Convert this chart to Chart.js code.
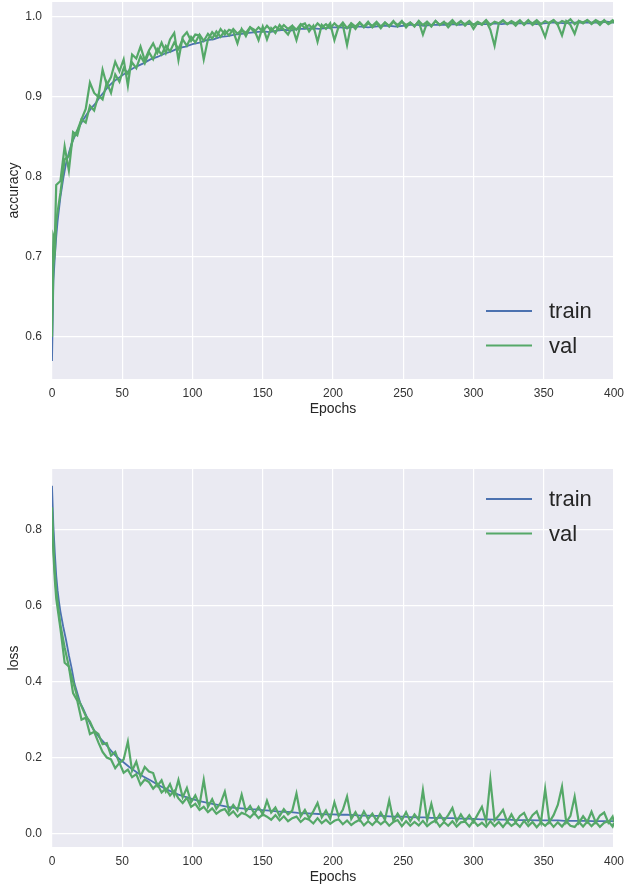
<!DOCTYPE html>
<html>
<head>
<meta charset="utf-8">
<script src="https://cdn.jsdelivr.net/npm/chart.js@4.4.1/dist/chart.umd.min.js"></script>
<style>
  body { margin: 0; background: #fff; }
  #wrap { position: relative; width: 624px; height: 889px; }
  #accChart { position: absolute; left: 0; top: 0; }
  #lossChart { position: absolute; left: 0; top: 440px; }
</style>
</head>
<body>
<div id="wrap">
  <canvas id="accChart" width="624" height="421"></canvas>
  <canvas id="lossChart" width="624" height="449"></canvas>
</div>
<script>
// training curves (smooth, read every few epochs)
const trainEpochs = [
  0, 1, 2, 3, 4, 5, 6, 8, 10, 12, 14, 16, 18, 20, 22, 25, 28, 31, 34, 37, 40, 43, 46, 50,
  55, 60, 65, 70, 75, 80, 85, 90, 95, 100,
  105, 110, 115, 120, 125, 130, 135, 140, 145, 150,
  155, 160, 165, 170, 175, 180, 185, 190, 195, 200,
  205, 210, 215, 220, 225, 230, 235, 240, 245, 250,
  255, 260, 265, 270, 275, 280, 285, 290, 295, 300,
  305, 310, 315, 320, 325, 330, 335, 340, 345, 350,
  355, 360, 365, 370, 375, 380, 385, 390, 395, 400
];
const trainAcc = [
  0.57, 0.67, 0.70, 0.725, 0.745, 0.76, 0.775, 0.798, 0.817, 0.83, 0.842, 0.85, 0.858, 0.865, 0.871, 0.879, 0.886, 0.892, 0.9, 0.906, 0.913, 0.918, 0.922, 0.927,
  0.933, 0.938, 0.942, 0.947, 0.95, 0.954, 0.957, 0.961, 0.963, 0.966,
  0.968, 0.971, 0.972, 0.975, 0.976, 0.978, 0.979, 0.98, 0.981, 0.982,
  0.981, 0.983, 0.984, 0.983, 0.985, 0.985, 0.986, 0.985, 0.986, 0.987,
  0.987, 0.986, 0.988, 0.988, 0.987, 0.988, 0.989, 0.989, 0.988, 0.989,
  0.99, 0.99, 0.989, 0.99, 0.99, 0.99, 0.991, 0.99, 0.991, 0.991,
  0.991, 0.991, 0.992, 0.991, 0.992, 0.992, 0.992, 0.992, 0.991, 0.992,
  0.993, 0.993, 0.992, 0.993, 0.993, 0.993, 0.993, 0.993, 0.994, 0.993
];
const trainLoss = [
  0.917, 0.81, 0.74, 0.68, 0.64, 0.61, 0.585, 0.545, 0.51, 0.47, 0.435, 0.395, 0.37, 0.345, 0.33, 0.305, 0.283, 0.266, 0.252, 0.24, 0.227, 0.214, 0.202, 0.19,
  0.175, 0.162, 0.15, 0.14, 0.129, 0.119, 0.11, 0.102, 0.096, 0.09,
  0.085, 0.081, 0.077, 0.074, 0.07, 0.067, 0.066, 0.064, 0.063, 0.061,
  0.06, 0.058, 0.057, 0.056, 0.054, 0.053, 0.052, 0.051, 0.05, 0.05,
  0.049, 0.049, 0.048, 0.047, 0.047, 0.046, 0.046, 0.045, 0.044, 0.044,
  0.043, 0.042, 0.042, 0.041, 0.041, 0.04, 0.04, 0.039, 0.039, 0.038,
  0.037, 0.037, 0.036, 0.036, 0.036, 0.035, 0.035, 0.035, 0.034, 0.034,
  0.034, 0.034, 0.033, 0.033, 0.033, 0.033, 0.032, 0.032, 0.032, 0.032
];

// validation curves (noisy, read every 3 epochs)
const valEpochs = [
  0, 1, 2, 3, 6, 9, 12, 15, 18, 21,
  24, 27, 30, 33, 36, 39, 42, 45, 48, 51,
  54, 57, 60, 63, 66, 69, 72, 75, 78, 81,
  84, 87, 90, 93, 96, 99, 102, 105, 108, 111,
  114, 117, 120, 123, 126, 129, 132, 135, 138, 141,
  144, 147, 150, 153, 156, 159, 162, 165, 168, 171,
  174, 177, 180, 183, 186, 189, 192, 195, 198, 201,
  204, 207, 210, 213, 216, 219, 222, 225, 228, 231,
  234, 237, 240, 243, 246, 249, 252, 255, 258, 261,
  264, 267, 270, 273, 276, 279, 282, 285, 288, 291,
  294, 297, 300, 303, 306, 309, 312, 315, 318, 321,
  324, 327, 330, 333, 336, 339, 342, 345, 348, 351,
  354, 357, 360, 363, 366, 369, 372, 375, 378, 381,
  384, 387, 390, 393, 396, 399, 400
];
const valAcc = [
  0.643, 0.726, 0.72, 0.79, 0.795, 0.838, 0.808, 0.856, 0.852, 0.872,
  0.885, 0.918, 0.905, 0.9, 0.934, 0.915, 0.925, 0.944, 0.932, 0.947,
  0.914, 0.953, 0.948, 0.963, 0.946, 0.958, 0.967, 0.955, 0.968, 0.955,
  0.972, 0.98, 0.946, 0.975, 0.981, 0.97, 0.978, 0.977, 0.947, 0.972,
  0.981, 0.975, 0.985, 0.978, 0.984, 0.982, 0.967, 0.985, 0.976, 0.987,
  0.984, 0.971, 0.988, 0.972, 0.986, 0.98, 0.99, 0.984, 0.978, 0.988,
  0.971, 0.99, 0.992, 0.982, 0.989, 0.969, 0.99, 0.985, 0.992, 0.971,
  0.988, 0.99, 0.965, 0.991, 0.985, 0.993, 0.988, 0.994, 0.987, 0.992,
  0.986, 0.993, 0.988, 0.994, 0.99, 0.995, 0.987, 0.993, 0.989, 0.994,
  0.978, 0.993, 0.988, 0.995, 0.99, 0.994, 0.987, 0.993, 0.991, 0.995,
  0.989, 0.994, 0.985, 0.993, 0.99, 0.995, 0.984, 0.964, 0.992, 0.995,
  0.991, 0.994, 0.989, 0.995, 0.991, 0.996, 0.99, 0.994, 0.988, 0.975,
  0.993, 0.996, 0.99, 0.977, 0.995, 0.99, 0.979, 0.995, 0.992, 0.996,
  0.991, 0.995, 0.99, 0.996, 0.991, 0.994, 0.993
];
const valAcc2 = [
  0.6, 0.69, 0.705, 0.745, 0.78, 0.822, 0.826, 0.848, 0.858, 0.872,
  0.868, 0.889, 0.883, 0.902, 0.897, 0.918, 0.905, 0.928, 0.919, 0.936,
  0.929, 0.943, 0.936, 0.951, 0.942, 0.956, 0.947, 0.96, 0.953, 0.964,
  0.957, 0.968, 0.96, 0.972, 0.964, 0.975, 0.968, 0.978, 0.97, 0.979,
  0.973, 0.982, 0.975, 0.983, 0.977, 0.985, 0.979, 0.984, 0.98, 0.987,
  0.981, 0.987, 0.982, 0.989, 0.983, 0.988, 0.984, 0.99, 0.985, 0.989,
  0.984, 0.991, 0.986, 0.99, 0.985, 0.992, 0.987, 0.991, 0.986, 0.992,
  0.987, 0.993, 0.986, 0.992, 0.988, 0.993, 0.987, 0.992, 0.989, 0.994,
  0.988, 0.993, 0.989, 0.995, 0.988, 0.994, 0.99, 0.993, 0.988, 0.995,
  0.99, 0.994, 0.989, 0.995, 0.99, 0.993, 0.991, 0.996, 0.99, 0.994,
  0.991, 0.995, 0.99, 0.994, 0.991, 0.996, 0.99, 0.994, 0.992, 0.996,
  0.991, 0.995, 0.992, 0.996, 0.99, 0.995, 0.992, 0.996, 0.991, 0.995,
  0.992, 0.996, 0.991, 0.995, 0.993, 0.997, 0.991, 0.995, 0.993, 0.996,
  0.992, 0.996, 0.993, 0.995, 0.992, 0.996, 0.994
];
const valLoss = [
  0.86, 0.76, 0.69, 0.64, 0.55, 0.49, 0.44, 0.40, 0.36, 0.335,
  0.31, 0.295, 0.27, 0.262, 0.235, 0.238, 0.205, 0.215, 0.185, 0.195,
  0.242, 0.165, 0.189, 0.15, 0.175, 0.163, 0.159, 0.125, 0.14, 0.11,
  0.13, 0.1, 0.141, 0.095, 0.12, 0.082, 0.1, 0.075, 0.141, 0.07,
  0.09, 0.065, 0.08, 0.11, 0.058, 0.075, 0.06, 0.102, 0.058, 0.072,
  0.052, 0.07, 0.05, 0.086, 0.055, 0.068, 0.046, 0.064, 0.05, 0.06,
  0.105, 0.045, 0.062, 0.04, 0.058, 0.08, 0.042, 0.06, 0.038, 0.082,
  0.045, 0.062, 0.097, 0.038, 0.056, 0.035, 0.058, 0.038, 0.052, 0.034,
  0.055, 0.036, 0.087, 0.033, 0.052, 0.035, 0.056, 0.032, 0.05, 0.036,
  0.114, 0.034, 0.078, 0.032, 0.05, 0.033, 0.048, 0.067, 0.031, 0.05,
  0.032, 0.048, 0.03, 0.05, 0.07, 0.031, 0.142, 0.034, 0.047, 0.062,
  0.03, 0.05, 0.029, 0.046, 0.054, 0.03, 0.048, 0.058, 0.028, 0.117,
  0.03, 0.048, 0.075, 0.123, 0.029, 0.046, 0.097, 0.028, 0.045, 0.03,
  0.057, 0.029, 0.047, 0.055, 0.028, 0.044, 0.03
];
const valLoss2 = [
  0.83, 0.74, 0.67, 0.62, 0.54, 0.45, 0.44, 0.37, 0.35, 0.3,
  0.305, 0.262, 0.268, 0.24, 0.215, 0.2, 0.195, 0.172, 0.186, 0.16,
  0.168, 0.148, 0.156, 0.128, 0.142, 0.135, 0.118, 0.13, 0.108, 0.118,
  0.1, 0.112, 0.092, 0.08, 0.094, 0.07, 0.078, 0.062, 0.07, 0.056,
  0.066, 0.052, 0.06, 0.064, 0.048, 0.058, 0.044, 0.054, 0.05, 0.042,
  0.054, 0.04, 0.05, 0.044, 0.036, 0.048, 0.034, 0.045, 0.032, 0.04,
  0.044, 0.03, 0.04, 0.036, 0.026, 0.04, 0.027, 0.036, 0.025, 0.033,
  0.037, 0.024, 0.034, 0.022, 0.03, 0.036, 0.021, 0.032, 0.022, 0.034,
  0.024, 0.033, 0.02, 0.03, 0.035, 0.019, 0.032, 0.02, 0.03, 0.021,
  0.033, 0.019, 0.028, 0.034, 0.018, 0.03, 0.02, 0.032, 0.018, 0.029,
  0.031, 0.018, 0.033, 0.02, 0.028, 0.017, 0.032, 0.019, 0.03, 0.017,
  0.031, 0.02, 0.028, 0.017, 0.033, 0.019, 0.03, 0.016, 0.029, 0.02,
  0.031, 0.017, 0.029, 0.018, 0.032, 0.02, 0.017, 0.03, 0.018, 0.031,
  0.019, 0.03, 0.017, 0.028, 0.032, 0.018, 0.028
];

// axes
const epochTicks = [0, 50, 100, 150, 200, 250, 300, 350, 400];
const accTicks = [0.6, 0.7, 0.8, 0.9, 1.0];
const lossTicks = [0.0, 0.2, 0.4, 0.6, 0.8];
const accRange = [0.5475, 1.0187];
const lossRange = [-0.036, 0.961];
const legendLabels = ["train", "val"];

const BLUE = "#4C72B0";
const GREEN = "#55A868";
const PLOT_BG = "#EAEAF2";
const FONT = "'Liberation Sans', Arial, sans-serif";

Chart.defaults.font.family = FONT;
Chart.defaults.color = "#333";

function points(xs, ys) {
  return xs.map((x, i) => ({ x: x, y: ys[i] }));
}

// seaborn-like grey panel behind the grid
const plotBg = {
  id: 'plotBg',
  beforeDraw(chart) {
    const a = chart.chartArea, c = chart.ctx;
    c.save();
    c.fillStyle = PLOT_BG;
    c.fillRect(a.left, a.top, a.right - a.left, a.bottom - a.top);
    c.restore();
  }
};

// big matplotlib-style legend inside the plot
const bigLegend = {
  id: 'bigLegend',
  afterDraw(chart, args, opts) {
    const a = chart.chartArea, c = chart.ctx;
    let y = opts.corner === 'top' ? a.top + 30 : a.bottom - 68;
    c.save();
    c.font = "22px " + FONT;
    c.textBaseline = 'middle';
    chart.data.datasets.forEach(ds => {
      if (!legendLabels.includes(ds.label)) return;
      c.strokeStyle = ds.borderColor;
      c.lineWidth = 2;
      c.beginPath();
      c.moveTo(a.right - 128, y);
      c.lineTo(a.right - 82, y);
      c.stroke();
      c.fillStyle = '#262626';
      c.fillText(ds.label, a.right - 65, y + 1);
      y += 34.5;
    });
    c.restore();
  }
};

function makeScales(range, yTicks, yTitle) {
  const grid = { color: '#ffffff', lineWidth: 1.2, drawTicks: false };
  return {
    x: {
      type: 'linear',
      min: 0,
      max: 400,
      afterBuildTicks: s => { s.ticks = epochTicks.map(v => ({ value: v })); },
      afterFit: s => { s.height = 42; s.paddingLeft = 0; s.paddingRight = 0; },
      grid: grid,
      border: { display: false },
      ticks: { padding: 7, autoSkip: false, maxRotation: 0, font: { size: 12 }, color: '#333' },
      title: { display: true, text: 'Epochs', font: { size: 14 }, color: '#262626', padding: { top: 0, bottom: 3 } }
    },
    y: {
      type: 'linear',
      min: range[0],
      max: range[1],
      afterBuildTicks: s => { s.ticks = yTicks.map(v => ({ value: v })); },
      afterFit: s => { s.width = 52; s.paddingTop = 0; s.paddingBottom = 0; },
      grid: grid,
      border: { display: false },
      ticks: { padding: 10, font: { size: 12 }, color: '#333', callback: v => v.toFixed(1) },
      title: { display: true, text: yTitle, font: { size: 14 }, color: '#262626', padding: { top: 6, bottom: 0 } }
    }
  };
}

function makeChart(id, trainY, valY, val2Y, range, yTicks, yTitle, corner, padTop) {
  return new Chart(document.getElementById(id), {
    type: 'line',
    data: {
      datasets: [
        { label: 'train', data: points(trainEpochs, trainY), borderColor: BLUE, borderWidth: 1.8, order: 3 },
        { label: 'val', data: points(valEpochs, valY), borderColor: GREEN, borderWidth: 2.2, order: 1 },
        { label: '', data: points(valEpochs, val2Y), borderColor: GREEN, borderWidth: 2.2, order: 2 }
      ]
    },
    options: {
      responsive: false,
      animation: false,
      devicePixelRatio: 1,
      parsing: false,
      elements: { point: { radius: 0 }, line: { tension: 0 } },
      layout: { padding: { top: padTop, right: 10, left: 0, bottom: 0 } },
      scales: makeScales(range, yTicks, yTitle),
      plugins: {
        legend: { display: false },
        tooltip: { enabled: false },
        bigLegend: { corner: corner }
      }
    },
    plugins: [plotBg, bigLegend]
  });
}

makeChart('accChart', trainAcc, valAcc, valAcc2, accRange, accTicks, 'accuracy', 'bottom', 2);
makeChart('lossChart', trainLoss, valLoss, valLoss2, lossRange, lossTicks, 'loss', 'top', 29);
</script>
</body>
</html>
